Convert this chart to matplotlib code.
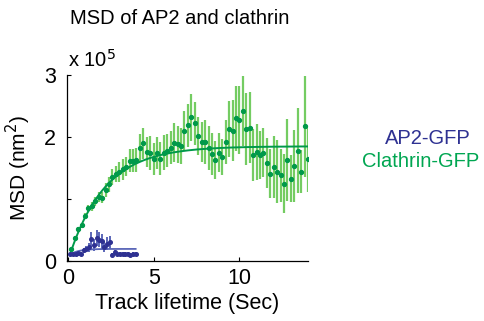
import numpy as np
import matplotlib
matplotlib.use("Agg")
import matplotlib.pyplot as plt

plt.rcParams['font.family'] = ['Liberation Sans', 'DejaVu Sans']

# ---- data (MSD in units of 1e5 nm^2) ----
clathrin_dt = 0.2
clathrin_msd = [0.19, 0.37, 0.51, 0.58, 0.73, 0.85, 0.88, 0.96, 1.03, 1.02,
                1.15, 1.24, 1.36, 1.41, 1.44, 1.48, 1.52, 1.62, 1.62, 1.63,
                1.83, 1.90, 1.76, 1.74, 1.65, 1.74, 1.65, 1.75, 1.78, 1.83,
                1.91, 1.88, 1.85, 2.10, 2.19, 2.32, 2.22, 2.02, 1.92, 1.92,
                1.82, 1.73, 1.63, 1.75, 1.68, 1.92, 2.13, 2.10, 2.30, 2.27,
                2.42, 2.13, 2.15, 1.71, 1.76, 1.71, 1.75, 1.58, 1.41, 1.51,
                1.44, 1.38, 1.25, 1.63, 1.33, 1.53, 1.78, 1.44, 2.17, 1.64]
clathrin_err = [0.02, 0.03, 0.04, 0.04, 0.05, 0.06, 0.07, 0.08, 0.08, 0.09,
                0.11, 0.12, 0.13, 0.13, 0.16, 0.17, 0.15, 0.19, 0.19, 0.19,
                0.22, 0.25, 0.24, 0.27, 0.26, 0.26, 0.27, 0.29, 0.27, 0.27,
                0.32, 0.30, 0.29, 0.32, 0.35, 0.38, 0.35, 0.31, 0.32, 0.35,
                0.35, 0.34, 0.30, 0.32, 0.29, 0.35, 0.45, 0.49, 0.52, 0.55,
                0.56, 0.58, 0.57, 0.42, 0.45, 0.38, 0.40, 0.40, 0.40, 0.50,
                0.51, 0.43, 0.48, 0.66, 0.38, 0.58, 0.69, 0.35, 0.81, 0.52]
ap2_dt = 0.152
ap2_msd = [0.11, 0.12, 0.12, 0.13, 0.11, 0.17, 0.19, 0.22, 0.35, 0.26,
           0.37, 0.34, 0.32, 0.23, 0.28, 0.30, 0.10, 0.14, 0.12, 0.12,
           0.11, 0.12, 0.11, 0.10, 0.12, 0.11]
ap2_err = [0.02, 0.02, 0.02, 0.02, 0.03, 0.04, 0.05, 0.07, 0.12, 0.10,
           0.13, 0.12, 0.12, 0.09, 0.10, 0.10, 0.03, 0.04, 0.03, 0.03,
           0.03, 0.03, 0.03, 0.03, 0.03, 0.03]
# fitted model parameters: y = plateau - amp * exp(-t / tau)
clathrin_fit = dict(plateau=1.85, amp=1.85, tau=2.1)
ap2_fit = dict(plateau=0.195, amp=0.12, tau=0.5)

green_dot = '#00994a'
green_bar = '#74cc62'
blue_dot = '#2e3192'
blue_bar = '#5a66b8'

tc = clathrin_dt * np.arange(1, len(clathrin_msd) + 1)
ta = ap2_dt * np.arange(1, len(ap2_msd) + 1)

fig = plt.figure(figsize=(4.84, 3.21), dpi=100)
ax = fig.add_axes([67/484, 1 - 261/321, (308-67)/484, (261-75)/321])

ax.errorbar(tc, clathrin_msd, yerr=clathrin_err, fmt='none', ecolor=green_bar,
            elinewidth=1.6, capsize=0, zorder=2)
ax.plot(tc, clathrin_msd, 'o', color=green_dot, ms=2.8, zorder=4)
tf = np.linspace(tc[0] - 0.03, 14, 300)
ax.plot(tf, clathrin_fit['plateau'] - clathrin_fit['amp'] * np.exp(-tf / clathrin_fit['tau']),
        color=green_dot, lw=1.4, zorder=3)

ax.errorbar(ta, ap2_msd, yerr=ap2_err, fmt='none', ecolor=blue_bar,
            elinewidth=1.4, capsize=0, zorder=2)
ax.plot(ta, ap2_msd, 'o', color=blue_dot, ms=2.6, zorder=4)
tfa = np.linspace(ta[0], ta[-1], 200)
ax.plot(tfa, ap2_fit['plateau'] - ap2_fit['amp'] * np.exp(-tfa / ap2_fit['tau']),
        color=blue_bar, lw=1.3, zorder=3)

ax.set_xlim(-0.05, 14)
ax.set_ylim(0, 3)
ax.set_xticks([0, 5, 10])
ax.set_xticklabels(['0', '5', '10'])
ax.set_yticks([0, 1, 2, 3])
ax.set_yticklabels(['0', '', '2', '3'])
ax.tick_params(direction='in', length=3, width=0.8, labelsize=15.5)
ax.tick_params(axis='x', pad=5)
ax.tick_params(axis='y', pad=8)
for s in ['top', 'right']:
    ax.spines[s].set_visible(False)
for s in ['left', 'bottom']:
    ax.spines[s].set_linewidth(0.9)

ax.set_xlabel('Track lifetime (Sec)', fontsize=15.5, labelpad=3)
ax.set_ylabel('MSD (nm$^2$)', fontsize=15, labelpad=8)
fig.text(68/484, 1 - 60/321, r'x 10$^5$', fontsize=14.5, ha='left', va='center')
fig.text(180/484, 1 - 18/321, 'MSD of AP2 and clathrin', fontsize=14.5, ha='center', va='center')
fig.text(428/484, 1 - 138/321, 'AP2-GFP', fontsize=14.5, color=blue_dot, ha='center', va='center')
fig.text(421/484, 1 - 162/321, 'Clathrin-GFP', fontsize=14.5, color='#00a651', ha='center', va='center')

fig.savefig('out.png', dpi=100)
